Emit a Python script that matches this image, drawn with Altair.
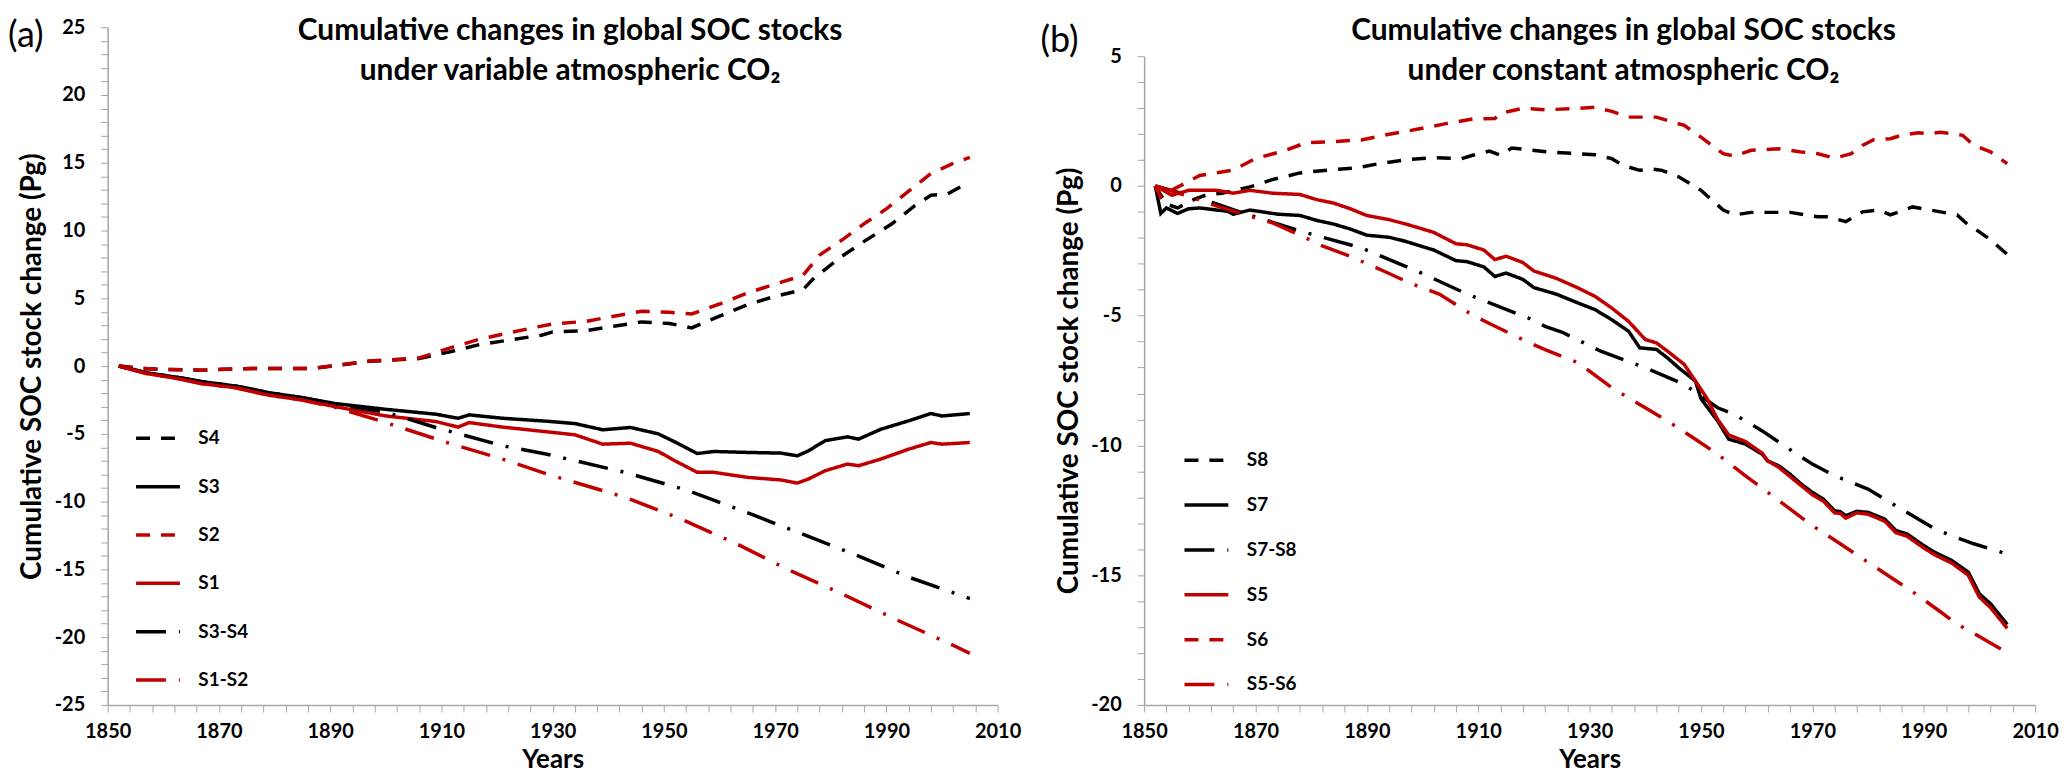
import altair as alt
import pandas as pd

FONT = "Lato"
RED = "#C00000"
BLACK = "#000000"
AXIS_GRAY = "#A6A6A6"

# ---------------- Panel (a): variable atmospheric CO2 ----------------
a_S4_years = [1852,1856,1860,1867,1876,1887,1897,1906,1912,1917,1928,1930,1936,1941,1946,1951,1955,1960,1965,1970,1975,1977,1982,1986,1991,1995,1998,2001,2005]
a_S4_vals = [0,-0.17,-0.25,-0.3,-0.17,-0.17,0.35,0.55,1.1,1.6,2.28,2.52,2.62,2.94,3.26,3.14,2.82,3.68,4.53,5.15,5.64,6.5,8.1,9.2,10.5,11.8,12.6,12.7,13.6]

a_S2_years = [1852,1856,1860,1867,1876,1887,1897,1906,1912,1917,1927,1930,1936,1941,1946,1951,1955,1960,1965,1970,1975,1978,1982,1986,1990,1994,1998,2002,2005]
a_S2_vals = [0,-0.17,-0.25,-0.3,-0.17,-0.17,0.37,0.6,1.4,2.0,2.87,3.11,3.3,3.68,4.04,3.97,3.85,4.58,5.39,6.05,6.69,8.2,9.3,10.5,11.6,12.9,14.2,14.95,15.4]

a_S3_years = [1852,1857,1863,1867,1873,1879,1885,1891,1900,1909,1913,1915,1921,1929,1934,1939,1944,1949,1952,1956,1959,1965,1971,1974,1976,1979,1983,1985,1989,1994,1998,2000,2005]
a_S3_vals = [0,-0.49,-0.86,-1.15,-1.47,-1.96,-2.33,-2.77,-3.19,-3.55,-3.85,-3.6,-3.85,-4.07,-4.24,-4.7,-4.53,-5.0,-5.6,-6.45,-6.3,-6.37,-6.42,-6.62,-6.25,-5.5,-5.22,-5.39,-4.66,-4.04,-3.5,-3.68,-3.5]

a_S1_years = [1852,1857,1863,1867,1873,1879,1885,1891,1900,1909,1913,1915,1921,1929,1934,1939,1944,1949,1952,1956,1959,1965,1971,1974,1976,1979,1983,1985,1989,1994,1998,2000,2005]
a_S1_vals = [0,-0.55,-0.95,-1.3,-1.6,-2.15,-2.5,-3.0,-3.68,-4.09,-4.5,-4.17,-4.5,-4.85,-5.07,-5.76,-5.69,-6.3,-6.99,-7.84,-7.84,-8.21,-8.4,-8.63,-8.33,-7.72,-7.23,-7.35,-6.86,-6.13,-5.64,-5.76,-5.64]

a_S3S4_years = [1852,1857,1863,1867,1873,1879,1885,1891,1900,1909,1921,1929,1943,1954,1964,1974,1984,1994,2005]
a_S3S4_vals = [0,-0.49,-0.86,-1.15,-1.47,-1.96,-2.33,-2.8,-3.4,-4.53,-5.88,-6.5,-7.84,-9.14,-10.66,-12.25,-13.85,-15.57,-17.15]

a_S1S2_years = [1852,1857,1863,1867,1873,1879,1885,1891,1899,1911,1922,1929,1943,1953,1963,1972,1982,1992,2002,2005]
a_S1S2_vals = [0,-0.55,-0.95,-1.3,-1.6,-2.15,-2.5,-3.05,-4.04,-5.64,-6.99,-7.97,-9.68,-11.27,-13.1,-14.95,-16.8,-18.75,-20.6,-21.2]

# ---------------- Panel (b): constant atmospheric CO2 ----------------
b_S8_years = [1852,1854,1856,1859,1861,1864,1869,1873,1878,1883,1888,1892,1897,1902,1907,1909,1912,1914,1916,1923,1925,1931,1934,1936,1939,1941,1943,1946,1948,1950,1952,1954,1956,1959,1966,1971,1973,1976,1979,1982,1984,1988,1993,1996,1998,2000,2002,2005]
b_S8_vals = [0,-0.7,-0.85,-0.52,-0.36,-0.28,-0.04,0.24,0.5,0.61,0.69,0.85,1.01,1.09,1.05,1.18,1.34,1.18,1.46,1.3,1.28,1.2,1.05,0.79,0.6,0.66,0.6,0.35,0.09,-0.17,-0.55,-0.93,-1.12,-1.02,-1.02,-1.19,-1.19,-1.38,-1.0,-0.93,-1.12,-0.81,-1.0,-1.12,-1.51,-1.77,-2.08,-2.64]

b_S6_years = [1852,1853,1855,1860,1866,1870,1875,1879,1884,1889,1894,1899,1904,1909,1913,1914,1918,1922,1928,1931,1934,1937,1942,1947,1950,1954,1956,1959,1964,1968,1971,1974,1977,1979,1981,1984,1986,1989,1991,1993,1997,1999,2002,2005]
b_S6_vals = [0,-0.44,-0.16,0.4,0.61,1.06,1.34,1.66,1.71,1.77,1.99,2.18,2.39,2.58,2.6,2.8,2.99,2.93,2.99,3.03,2.87,2.65,2.65,2.33,1.88,1.24,1.15,1.37,1.43,1.31,1.24,1.07,1.24,1.56,1.78,1.82,1.95,2.05,2.01,2.07,1.95,1.56,1.31,0.86]

b_S7_years = [1852,1853,1854,1856,1858,1860,1865,1866,1869,1874,1878,1881,1884,1887,1890,1894,1897,1900,1902,1906,1908,1911,1913,1915,1918,1920,1924,1928,1931,1934,1937,1939,1942,1944,1946,1949,1950,1953,1955,1958,1961,1962,1964,1966,1968,1970,1972,1974,1975,1976,1978,1980,1983,1985,1987,1990,1992,1995,1998,2000,2002,2005]
b_S7_vals = [0,-1.06,-0.85,-1.06,-0.88,-0.85,-0.98,-1.09,-0.93,-1.09,-1.14,-1.33,-1.47,-1.66,-1.9,-1.98,-2.14,-2.34,-2.47,-2.88,-2.92,-3.12,-3.49,-3.36,-3.6,-3.92,-4.17,-4.52,-4.77,-5.16,-5.6,-6.24,-6.3,-6.63,-7.01,-7.52,-8.2,-9.06,-9.76,-9.95,-10.34,-10.6,-10.79,-11.11,-11.49,-11.81,-12.07,-12.52,-12.55,-12.71,-12.54,-12.58,-12.84,-13.28,-13.41,-13.86,-14.12,-14.43,-14.88,-15.72,-16.1,-16.9]

b_S5_years = [1852,1855,1858,1863,1866,1869,1873,1878,1881,1884,1887,1890,1894,1897,1900,1902,1906,1908,1911,1913,1915,1918,1920,1924,1928,1931,1934,1937,1940,1942,1944,1947,1949,1951,1953,1955,1958,1961,1962,1964,1966,1968,1970,1972,1974,1975,1976,1978,1980,1983,1985,1987,1990,1992,1995,1998,2000,2002,2005]
b_S5_vals = [0,-0.36,-0.17,-0.17,-0.28,-0.17,-0.28,-0.33,-0.53,-0.66,-0.88,-1.14,-1.3,-1.47,-1.66,-1.79,-2.23,-2.27,-2.47,-2.84,-2.71,-2.95,-3.28,-3.56,-3.94,-4.26,-4.71,-5.22,-5.92,-6.05,-6.37,-6.88,-7.52,-8.16,-9.0,-9.6,-9.85,-10.3,-10.6,-10.85,-11.2,-11.55,-11.9,-12.15,-12.6,-12.62,-12.8,-12.6,-12.65,-12.92,-13.36,-13.5,-13.95,-14.22,-14.53,-15.0,-15.85,-16.25,-17.05]

b_S7S8_years = [1852,1857,1863,1867,1878,1889,1899,1908,1919,1922,1925,1932,1940,1947,1953,1956,1961,1965,1970,1974,1980,1984,1989,1992,1996,1999,2004,2005]
b_S7S8_vals = [0,-0.3,-0.69,-0.99,-1.74,-2.39,-3.28,-4.17,-5.09,-5.41,-5.63,-6.37,-7.01,-7.65,-8.55,-8.8,-9.44,-10.02,-10.72,-11.17,-11.68,-12.2,-12.84,-13.22,-13.56,-13.79,-14.12,-14.2]

b_S5S6_years = [1852,1858,1863,1869,1873,1878,1882,1887,1893,1898,1903,1909,1912,1919,1922,1928,1934,1940,1944,1949,1953,1958,1964,1970,1975,1979,1984,1988,1993,1996,1999,2005]
b_S5S6_vals = [0,-0.4,-0.77,-1.17,-1.42,-1.9,-2.31,-2.71,-3.28,-3.77,-4.17,-4.98,-5.3,-6.03,-6.31,-6.82,-7.78,-8.55,-9.06,-9.76,-10.34,-11.17,-12.13,-13.09,-13.79,-14.36,-15.07,-15.64,-16.41,-16.89,-17.24,-17.99]

# legend order, colours and dash styles
a_order = ["S4", "S3", "S2", "S1", "S3-S4", "S1-S2"]
a_colors = [BLACK, BLACK, RED, RED, BLACK, RED]
b_order = ["S8", "S7", "S7-S8", "S5", "S6", "S5-S6"]
b_colors = [BLACK, BLACK, BLACK, RED, RED, RED]
DASH = [14, 11]
SOLID = [1, 0]
DASHDOT = [30, 13, 3, 13]
a_dashes = [DASH, SOLID, DASH, SOLID, DASHDOT, DASHDOT]
b_dashes = [DASH, SOLID, DASHDOT, SOLID, DASH, DASHDOT]

a_series = {
    "S4": (a_S4_years, a_S4_vals), "S3": (a_S3_years, a_S3_vals),
    "S2": (a_S2_years, a_S2_vals), "S1": (a_S1_years, a_S1_vals),
    "S3-S4": (a_S3S4_years, a_S3S4_vals), "S1-S2": (a_S1S2_years, a_S1S2_vals),
}
b_series = {
    "S8": (b_S8_years, b_S8_vals), "S7": (b_S7_years, b_S7_vals),
    "S7-S8": (b_S7S8_years, b_S7S8_vals), "S5": (b_S5_years, b_S5_vals),
    "S6": (b_S6_years, b_S6_vals), "S5-S6": (b_S5S6_years, b_S5S6_vals),
}

H = 680  # common plot height (axis bottom at the same level in both panels)


def long_frame(series):
    rows = []
    for name, (yrs, vals) in series.items():
        for yr, v in zip(yrs, vals):
            rows.append({"series": name, "year": yr, "value": v})
    return pd.DataFrame(rows)


def panel(series, order, colors, dashes, ydom, yrange, w, title_lines, title_x,
          tag, tag_x, tag_y, leg_x, leg_y, row_pad):
    df = long_frame(series)
    legend = alt.Legend(
        orient="none", legendX=leg_x, legendY=leg_y, title=None, padding=0,
        symbolType="M-4,0H4", symbolSize=121, symbolStrokeWidth=3.5,
        symbolOffset=13, labelOffset=31, rowPadding=row_pad,
        labelFont=FONT, labelFontSize=19, labelFontWeight="bold",
        labelColor=BLACK, labelLimit=300,
    )
    xaxis = alt.Axis(
        values=list(range(1850, 2011, 4)),
        labelExpr="(datum.value - 1850) % 20 === 0 ? '' + datum.value : ''",
        title="Years", titleFont=FONT, titleFontSize=26, titleFontWeight="bold",
        titleColor=BLACK, titleX=w / 2, titleY=63, titleBaseline="alphabetic",
        titleAlign="center",
        labelFont=FONT, labelFontSize=20, labelFontWeight="bold", labelColor=BLACK,
        labelPadding=10, labelFlush=False, labelOverlap=False, labelBound=False,
        tickSize=7, tickColor=AXIS_GRAY, domainColor=AXIS_GRAY, domainWidth=1.5,
        grid=False,
    )
    yaxis = alt.Axis(
        values=list(range(ydom[0], ydom[1] + 1)),
        labelExpr="datum.value % 5 === 0 ? '' + datum.value : ''",
        title="Cumulative SOC stock change (Pg)", titleFont=FONT, titleFontSize=28,
        titleFontWeight="bold", titleColor=BLACK, titleX=-75, titleY=(yrange[0] + yrange[1]) / 2,
        titleAngle=270, titleBaseline="middle", titleAlign="center",
        labelFont=FONT, labelFontSize=20, labelFontWeight="bold", labelColor=BLACK,
        labelPadding=16, labelFlush=False, labelOverlap=False,
        tickSize=7, tickColor=AXIS_GRAY, domainColor=AXIS_GRAY, domainWidth=1.5,
        grid=False,
    )
    lines = alt.Chart(df).mark_line(strokeWidth=3.5).encode(
        x=alt.X("year:Q", scale=alt.Scale(domain=[1850, 2010], nice=False, zero=False), axis=xaxis),
        y=alt.Y("value:Q", scale=alt.Scale(domain=list(ydom), range=list(yrange), nice=False, zero=False), axis=yaxis),
        color=alt.Color("series:N", scale=alt.Scale(domain=order, range=colors), legend=legend),
        strokeDash=alt.StrokeDash("series:N", scale=alt.Scale(domain=order, range=dashes), legend=legend),
    )
    title = alt.Chart(pd.DataFrame({"k": [0]})).mark_text(
        text=title_lines, font=FONT, fontSize=30, fontWeight="bold", color=BLACK,
        lineHeight=40, align="center", baseline="alphabetic",
    ).encode(x=alt.value(title_x), y=alt.value(12.7))
    tagmark = alt.Chart(pd.DataFrame({"k": [0]})).mark_text(
        text=tag, font=FONT, fontSize=36, color=BLACK, align="left", baseline="alphabetic",
    ).encode(x=alt.value(tag_x), y=alt.value(tag_y))
    return alt.layer(lines, title, tagmark).properties(width=w, height=H)


pa = panel(a_series, a_order, a_colors, a_dashes, (-25, 25), [H, 0], 893,
           ["Cumulative changes in global SOC stocks", "under variable atmospheric CO\u2082"],
           464, "(a)", -100, 20, 28, 403, 28.5)
pb = panel(b_series, b_order, b_colors, b_dashes, (-20, 5), [H, 29], 894,
           ["Cumulative changes in global SOC stocks", "under constant atmospheric CO\u2082"],
           481, "(b)", -104, 25, 40, 425, 25)

chart = alt.hconcat(pa, pb, spacing=19).resolve_scale(
    x="independent", y="independent", color="independent", strokeDash="independent"
).resolve_legend(color="independent", strokeDash="independent").properties(
    padding={"top": 6, "left": 0, "right": 0, "bottom": 0}
).configure_view(stroke=None)

chart.save("out.html", embed_options={"renderer": "svg", "actions": False})
